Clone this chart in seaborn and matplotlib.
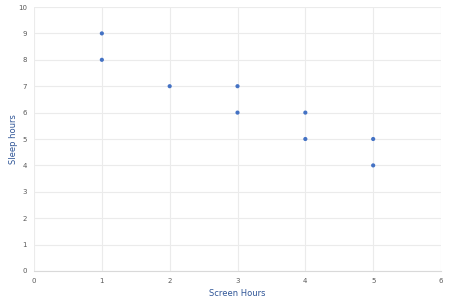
import matplotlib
matplotlib.use("Agg")
import matplotlib.pyplot as plt
import seaborn as sns
import pandas as pd

screen_hours = [1, 1, 2, 3, 3, 4, 4, 5, 5]
sleep_hours = [9, 8, 7, 7, 6, 6, 5, 5, 4]
x_ticks = [0, 1, 2, 3, 4, 5, 6]
y_ticks = [0, 1, 2, 3, 4, 5, 6, 7, 8, 9, 10]

df = pd.DataFrame({"Screen Hours": screen_hours, "Sleep hours": sleep_hours})

sns.set_theme(style="whitegrid")
plt.rcParams['font.family'] = ['DejaVu Sans']

fig = plt.figure(figsize=(4.5, 3.06), dpi=100)
ax = fig.add_axes([0.0756, 0.1144, 0.9044, 0.8627])
sns.scatterplot(data=df, x="Screen Hours", y="Sleep hours", ax=ax,
                color="#4472C4", s=9, edgecolor="none", zorder=3)
ax.set_xlim(0, 6)
ax.set_ylim(0, 10)
ax.set_xticks(x_ticks)
ax.set_yticks(y_ticks)
ax.grid(True, color="#ebebeb", linewidth=0.8)
for s in ["top", "right", "left"]:
    ax.spines[s].set_visible(False)
ax.spines["bottom"].set_visible(True)
ax.spines["bottom"].set_color("#d9d9d9")
ax.spines["bottom"].set_linewidth(0.8)
ax.tick_params(axis="both", labelsize=5, colors="#595959", length=0, pad=5)
ax.set_xlabel("Screen Hours", fontsize=6, color="#2F5597", labelpad=4)
ax.set_ylabel("Sleep hours", fontsize=6, color="#2F5597", labelpad=0)
fig.savefig("out.png", dpi=100)
